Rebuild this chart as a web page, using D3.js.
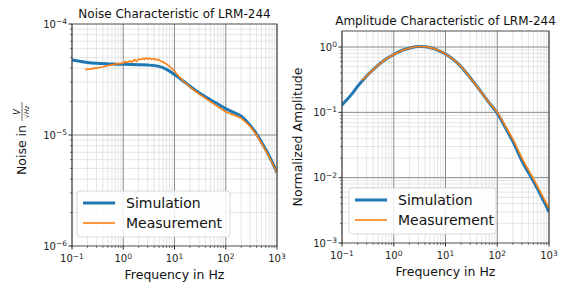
<!DOCTYPE html>
<html>
<head>
<meta charset="utf-8">
<script src="https://cdn.jsdelivr.net/npm/d3@7"></script>
<style>
  body { margin: 0; background: #fff; }
  svg { font-family: "DejaVu Sans", sans-serif; }
</style>
</head>
<body>
<div id="chart"></div>
<script>
// noise panel data (frequency in Hz, noise in V/sqrt(Hz))
var noiseSimFreq = [0.1, 0.15, 0.2, 0.3, 0.5, 0.7, 1, 2, 3, 5, 7, 10, 15, 20, 30, 50, 70, 100, 150, 200, 300, 400, 500, 700, 1000];
var noiseSimVal = [4.75e-5, 4.6e-5, 4.5e-5, 4.42e-5, 4.37e-5, 4.35e-5, 4.33e-5, 4.3e-5, 4.27e-5, 4.15e-5, 3.9e-5, 3.5e-5, 3.05e-5, 2.75e-5, 2.4e-5, 2.08e-5, 1.9e-5, 1.73e-5, 1.58e-5, 1.48e-5, 1.22e-5, 1.02e-5, 8.6e-6, 6.5e-6, 4.6e-6];

var noiseMeasFreq = [0.18, 0.22, 0.26, 0.3, 0.35, 0.4, 0.5, 0.6, 0.7, 0.8, 0.9, 1, 1.1, 1.2, 1.35, 1.5, 1.65, 1.8, 2, 2.2, 2.4, 2.6, 2.8, 3, 3.3, 3.6, 4, 4.4, 4.8, 5.3, 6, 7, 8, 9, 10, 12, 15, 20, 30, 50, 70, 100, 150, 200, 300, 400, 500, 700, 1000];
var noiseMeasVal = [3.9e-5, 3.92e-5, 3.98e-5, 4.0e-5, 4.08e-5, 4.1e-5, 4.22e-5, 4.3e-5, 4.35e-5, 4.38e-5, 4.4e-5, 4.45e-5, 4.6e-5, 4.5e-5, 4.65e-5, 4.55e-5, 4.8e-5, 4.6e-5, 4.85e-5, 4.75e-5, 4.9e-5, 4.8e-5, 4.95e-5, 4.85e-5, 4.9e-5, 4.8e-5, 4.88e-5, 4.75e-5, 4.8e-5, 4.65e-5, 4.55e-5, 4.35e-5, 4.15e-5, 3.95e-5, 3.75e-5, 3.4e-5, 3.05e-5, 2.72e-5, 2.35e-5, 2.0e-5, 1.8e-5, 1.62e-5, 1.5e-5, 1.42e-5, 1.2e-5, 1.0e-5, 8.4e-6, 6.4e-6, 4.6e-6];

// amplitude panel data (frequency in Hz, normalized amplitude)
var ampSimFreq = [0.1, 0.15, 0.2, 0.3, 0.5, 0.7, 1, 1.5, 2, 3, 4, 5, 7, 10, 15, 20, 30, 50, 70, 100, 150, 200, 300, 500, 700, 1000];
var ampSimVal = [0.13, 0.185, 0.25, 0.36, 0.53, 0.65, 0.77, 0.9, 0.96, 1.02, 1.01, 0.98, 0.9, 0.78, 0.62, 0.5, 0.34, 0.2, 0.14, 0.097, 0.055, 0.036, 0.018, 0.0088, 0.0053, 0.003];

var ampMeasFreq = [0.24, 0.3, 0.5, 0.7, 1, 1.5, 2, 3, 4, 5, 7, 10, 15, 20, 30, 50, 70, 100, 150, 200, 300, 500, 700, 1000];
var ampMeasVal = [0.31, 0.36, 0.53, 0.65, 0.77, 0.9, 0.96, 1.02, 1.01, 0.98, 0.9, 0.78, 0.62, 0.5, 0.34, 0.2, 0.14, 0.1, 0.058, 0.039, 0.02, 0.0096, 0.0058, 0.0034];

var seriesNames = ["Simulation", "Measurement"];
var xTicks = [0.1, 1, 10, 100, 1000];
var noiseTicks = [1e-6, 1e-5, 1e-4];
var ampTicks = [1e-3, 1e-2, 1e-1, 1];

var blue = "#1f77b4", orange = "#ff7f0e";

var svg = d3.select("#chart").append("svg")
  .attr("width", 568)
  .attr("height", 283);

// superscript tick labels like matplotlib
function powLabel(sel, v) {
  var e = Math.round(Math.log10(v));
  sel.text("10");
  sel.append("tspan")
    .attr("dy", "-0.45em")
    .attr("font-size", "7.5px")
    .text(String(e).replace("-", "\u2212"));
}

function minorTicks(lo, hi) {
  var out = [];
  for (var d = Math.floor(Math.log10(lo)); d < Math.ceil(Math.log10(hi)); d++) {
    for (var k = 2; k < 10; k++) {
      var v = k * Math.pow(10, d);
      if (v > lo && v < hi) out.push(v);
    }
  }
  return out;
}

function drawPanel(p) {
  var g = svg.append("g").attr("transform", `translate(${p.left}, ${p.top})`);
  var w = p.width, h = p.height;

  var x = d3.scaleLog().domain([0.1, 1000]).range([0, w]);
  var y = d3.scaleLog().domain(p.yDomain).range([h, 0]);

  var xMinor = minorTicks(0.1, 1000);
  var yMinor = minorTicks(p.yDomain[0], p.yDomain[1]);

  // minor grid
  g.selectAll(".gxm").data(xMinor).enter().append("line")
    .attr("x1", d => x(d)).attr("x2", d => x(d))
    .attr("y1", 0).attr("y2", h)
    .attr("stroke", "#dedede").attr("stroke-width", 0.8);
  g.selectAll(".gym").data(yMinor).enter().append("line")
    .attr("y1", d => y(d)).attr("y2", d => y(d))
    .attr("x1", 0).attr("x2", w)
    .attr("stroke", "#dedede").attr("stroke-width", 0.8);

  // major grid
  g.selectAll(".gx").data(xTicks).enter().append("line")
    .attr("x1", d => x(d)).attr("x2", d => x(d))
    .attr("y1", 0).attr("y2", h)
    .attr("stroke", "#8a8a8a").attr("stroke-width", 1);
  g.selectAll(".gy").data(p.yTicks.filter(d => d > p.yDomain[0] && d < p.yDomain[1])).enter().append("line")
    .attr("y1", d => y(d)).attr("y2", d => y(d))
    .attr("x1", 0).attr("x2", w)
    .attr("stroke", "#8a8a8a").attr("stroke-width", 1);

  var line = d3.line()
    .x(d => x(d[0]))
    .y(d => y(d[1]));

  var clip = "clip" + p.id;
  g.append("clipPath").attr("id", clip).append("rect")
    .attr("width", w).attr("height", h);

  var lines = g.append("g").attr("clip-path", `url(#${clip})`);
  lines.append("path")
    .datum(d3.zip(p.simFreq, p.simVal))
    .attr("d", line.curve(d3.curveMonotoneX))
    .attr("fill", "none").attr("stroke", blue).attr("stroke-width", 3);
  lines.append("path")
    .datum(d3.zip(p.measFreq, p.measVal))
    .attr("d", line.curve(p.measCurve))
    .attr("fill", "none").attr("stroke", orange).attr("stroke-width", 1.6);

  // axes frame
  g.append("rect").attr("width", w).attr("height", h)
    .attr("fill", "none").attr("stroke", "#222").attr("stroke-width", 0.8);

  // x ticks
  g.selectAll(".xt").data(xTicks).enter().append("line")
    .attr("x1", d => x(d)).attr("x2", d => x(d))
    .attr("y1", h).attr("y2", h + 3.5).attr("stroke", "#222");
  g.selectAll(".xtm").data(xMinor).enter().append("line")
    .attr("x1", d => x(d)).attr("x2", d => x(d))
    .attr("y1", h).attr("y2", h + 2).attr("stroke", "#222").attr("stroke-width", 0.6);
  g.selectAll(".xl").data(xTicks).enter().append("text")
    .attr("x", d => x(d)).attr("y", h + 16)
    .attr("text-anchor", "middle").attr("font-size", "10px").attr("fill", "#222")
    .each(function(d) { powLabel(d3.select(this), d); });

  // y ticks
  g.selectAll(".yt").data(p.yTicks).enter().append("line")
    .attr("y1", d => y(d)).attr("y2", d => y(d))
    .attr("x1", -3.5).attr("x2", 0).attr("stroke", "#222");
  g.selectAll(".ytm").data(yMinor).enter().append("line")
    .attr("y1", d => y(d)).attr("y2", d => y(d))
    .attr("x1", -2).attr("x2", 0).attr("stroke", "#222").attr("stroke-width", 0.6);
  g.selectAll(".yl").data(p.yTicks).enter().append("text")
    .attr("x", -5).attr("y", d => y(d) + 3.5)
    .attr("text-anchor", "end").attr("font-size", "10px").attr("fill", "#222")
    .each(function(d) { powLabel(d3.select(this), d); });

  // title + x label
  g.append("text").attr("x", w / 2).attr("y", -6)
    .attr("text-anchor", "middle").attr("font-size", "12px").attr("fill", "#111")
    .text(p.title);
  g.append("text").attr("x", w / 2).attr("y", h + 33)
    .attr("text-anchor", "middle").attr("font-size", "12.5px").attr("fill", "#111")
    .text("Frequency in Hz");

  // legend
  var lg = g.append("g").attr("transform", `translate(${p.legendX}, ${h - 55})`);
  lg.append("rect").attr("width", p.legendW).attr("height", 46).attr("rx", 3)
    .attr("fill", "#fff").attr("fill-opacity", 0.85)
    .attr("stroke", "#d0d0d0").attr("stroke-width", 0.8);
  var entries = [[seriesNames[0], blue, 3], [seriesNames[1], orange, 1.6]];
  entries.forEach(function(e, i) {
    var yy = 12 + i * 20;
    lg.append("line").attr("x1", 6).attr("x2", 38).attr("y1", yy).attr("y2", yy)
      .attr("stroke", e[1]).attr("stroke-width", e[2]);
    lg.append("text").attr("x", 49).attr("y", yy + 5)
      .attr("font-size", "14px").attr("fill", "#111").text(e[0]);
  });

  return g;
}

var noiseG = drawPanel({
  id: "n", left: 72, top: 24, width: 205, height: 222,
  yDomain: [1e-6, 1e-4], yTicks: noiseTicks,
  simFreq: noiseSimFreq, simVal: noiseSimVal,
  measFreq: noiseMeasFreq, measVal: noiseMeasVal, measCurve: d3.curveLinear,
  title: "Noise Characteristic of LRM-244", legendX: 5, legendW: 153
});

var ampG = drawPanel({
  id: "a", left: 342, top: 31, width: 207, height: 212,
  yDomain: [1e-3, 1.76], yTicks: ampTicks,
  simFreq: ampSimFreq, simVal: ampSimVal,
  measFreq: ampMeasFreq, measVal: ampMeasVal, measCurve: d3.curveMonotoneX,
  title: "Amplitude Characteristic of LRM-244", legendX: 7, legendW: 147
});

// y labels
var nl = svg.append("g").attr("transform", "translate(26, 135) rotate(-90)");
nl.append("text").attr("x", 10).attr("y", 0).attr("text-anchor", "end")
  .attr("font-size", "12.5px").attr("fill", "#111").text("Noise in");
nl.append("text").attr("x", 23).attr("y", -6).attr("text-anchor", "middle")
  .attr("font-size", "8px").attr("font-style", "italic").attr("fill", "#111").text("V");
nl.append("line").attr("x1", 14).attr("x2", 33).attr("y1", -4).attr("y2", -4)
  .attr("stroke", "#111").attr("stroke-width", 0.6);
nl.append("text").attr("x", 23).attr("y", 3).attr("text-anchor", "middle")
  .attr("font-size", "6.5px").attr("font-style", "italic").attr("fill", "#111").text("\u221AHz");

svg.append("text").attr("transform", "translate(302, 137) rotate(-90)")
  .attr("text-anchor", "middle").attr("font-size", "12.5px").attr("fill", "#111")
  .text("Normalized Amplitude");
</script>
</body>
</html>
